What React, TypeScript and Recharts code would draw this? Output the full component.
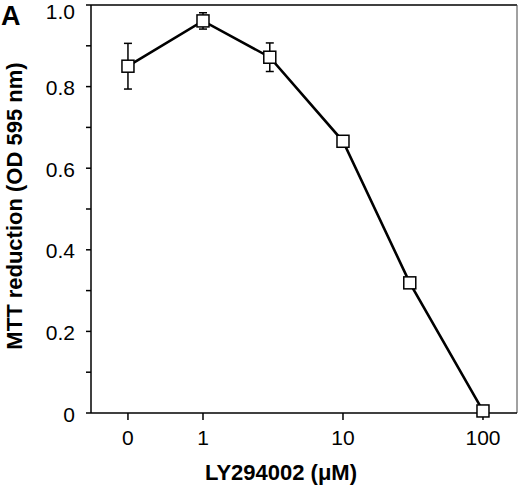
import {
  ErrorBar,
  LineChart,
  Line,
  ReferenceLine,
  XAxis,
  YAxis
} from "recharts";

// LY294002 concentrations (µM); 0 is drawn on a broken log axis
const concentrations = [0, 1, 3, 10, 30, 100];
const mttValues = [0.85, 0.961, 0.872, 0.666, 0.319, 0.005];
const mttErrors = [0.056, 0.02, 0.035, 0.01, 0.006, 0];

const xTickValues = [0, 1, 10, 100];
const xTickLabels = ["0", "1", "10", "100"];
const yTicks = [0, 0.1, 0.2, 0.3, 0.4, 0.5, 0.6, 0.7, 0.8, 0.9, 1.0];

// where the "0" dose sits on the log10 axis (axis break)
const ZERO_POS = -0.536;
const X_MIN = -0.8;
const X_MAX = 2.243;

const toPos = (c: number) => (c === 0 ? ZERO_POS : Math.log10(c));

const data = concentrations.map((c, i) => ({
  pos: toPos(c),
  mtt: mttValues[i],
  err: mttErrors[i]
}));

const FONT = "'Liberation Sans', Arial, Helvetica, sans-serif";

function SquareDot(props: any) {
  const { cx, cy } = props;
  if (cx == null || cy == null) return null;
  return (
    <rect
      x={cx - 6}
      y={cy - 6}
      width={12}
      height={12}
      fill="#fff"
      stroke="#000"
      strokeWidth={1.5}
    />
  );
}

function YTick(props: any) {
  const { x, y, payload } = props;
  const k = Math.round(payload.value * 10);
  if (k % 2 !== 0) return null;
  const label = k === 0 ? "0" : payload.value.toFixed(1);
  // the top label is nudged down to stay on the page
  const shift = k === 10 ? 6 : 1;
  return (
    <text
      x={x}
      y={y + shift}
      textAnchor="end"
      dominantBaseline="central"
      fill="#000"
      fontSize={21}
      fontFamily={FONT}
    >
      {label}
    </text>
  );
}

export default function App() {
  const xTickPos = xTickValues.map(toPos);
  return (
    <div style={{ position: "absolute", left: 0, top: 0, width: 520, height: 486, background: "#fff" }}>
      <div
        style={{
          position: "absolute",
          left: 1,
          top: 3,
          fontFamily: FONT,
          fontWeight: 700,
          fontSize: 27,
          lineHeight: "27px"
        }}
      >
        A
      </div>
      <LineChart
        width={520}
        height={486}
        data={data}
        margin={{ top: 5, right: 3, left: 0, bottom: 0 }}
      >
        <XAxis
          dataKey="pos"
          type="number"
          domain={[X_MIN, X_MAX]}
          ticks={xTickPos}
          tickFormatter={(v: number) => xTickLabels[xTickPos.indexOf(v)] ?? ""}
          height={73}
          stroke="#000"
          strokeWidth={1.5}
          tickSize={7}
          tickMargin={10}
          tick={{ fill: "#000", fontSize: 21, fontFamily: FONT }}
          allowDataOverflow
          label={(props: any) => {
            const vb = props.viewBox || {};
            const cx = (vb.x ?? 91) + (vb.width ?? 426) / 2 - 23;
            return (
              <text
                x={cx}
                y={480}
                textAnchor="middle"
                fill="#000"
                fontSize={22}
                fontWeight={700}
                fontFamily={FONT}
              >
                LY294002 (μM)
              </text>
            );
          }}
        />
        <YAxis
          type="number"
          domain={[0, 1]}
          ticks={yTicks}
          interval={0}
          width={91}
          stroke="#000"
          strokeWidth={1.5}
          tickSize={5}
          tickMargin={11}
          tick={<YTick />}
          label={(props: any) => {
            const vb = props.viewBox || {};
            const cy = (vb.y ?? 5) + (vb.height ?? 408) / 2 - 3;
            return (
              <text
                x={14}
                y={cy}
                transform={`rotate(-90, 14, ${cy})`}
                textAnchor="middle"
                dominantBaseline="central"
                fill="#000"
                fontSize={22}
                fontWeight={700}
                fontFamily={FONT}
              >
                MTT reduction (OD 595 nm)
              </text>
            );
          }}
        />
        <ReferenceLine y={1} stroke="#000" strokeWidth={1.5} ifOverflow="visible" />
        <ReferenceLine x={X_MAX} stroke="#444" strokeWidth={1} ifOverflow="visible" />
        <Line
          type="linear"
          dataKey="mtt"
          stroke="#000"
          strokeWidth={2.6}
          dot={<SquareDot />}
          activeDot={false}
          isAnimationActive={false}
        >
          <ErrorBar dataKey="err" width={4} stroke="#000" strokeWidth={1.5} direction="y" />
        </Line>
      </LineChart>
    </div>
  );
}
